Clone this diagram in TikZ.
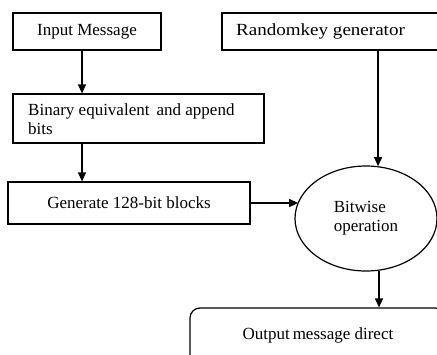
\documentclass[tikz,border=0pt]{standalone}
\usepackage{fontspec}
\setmainfont{Liberation Serif}
\newfontfamily\keyfont[FakeStretch=1.12]{Liberation Serif}
\usetikzlibrary{shapes.geometric,arrows.meta}
\begin{document}
\begin{tikzpicture}[x=1pt,y=-1pt,
  every node/.style={font=\fontsize{17}{19}\selectfont, inner sep=0pt},
  box/.style={draw, line width=1.2pt, rectangle},
  arr/.style={line width=1.2pt, -{Triangle[width=8pt,length=9pt]}},
  lbl/.style={draw=none}]
\useasboundingbox (0,0) rectangle (437,354);
\clip (0,0) rectangle (437,354);
\node[box, minimum width=148pt, minimum height=37pt] (in) at (87,31.5) {Input Message};
\node[box, minimum width=251pt, minimum height=49pt] (bin) at (138.5,118.5) {};
\node[lbl, anchor=west, align=left] (bintxt) at (28,119) {Binary equivalent\, and append\\bits};
\node[box, minimum width=242pt, minimum height=42pt] (gen) at (129,203) {Generate 128-bit blocks};
\node[box, minimum width=223pt, minimum height=37pt] (key) at (333.5,31.5) {};
\node[lbl, anchor=west] (keytxt) at (236,31.5) {\keyfont Randomkey generator};
\node[draw, line width=1.2pt, ellipse, minimum width=142pt, minimum height=105pt, align=left] (ell) at (366,218.5) {Bitwise\\operation};
\node[draw, line width=1.2pt, rounded corners=10pt, minimum width=255pt, minimum height=57pt] (out) at (317.5,336.5) {};
\node[lbl] (outtxt) at (318,335) {Output\,message direct};
\draw[arr] ([xshift=-5pt]in.south) -- ([xshift=-5pt]in.south |- bin.north);
\draw[arr] (bin.south -| 82,0) -- (gen.north -| 82,0);
\draw[arr] (gen.east) -- (gen.east -| ell.166);
\draw[arr] (key.south -| ell.77) -- (ell.77);
\draw[arr] (ell.284) -- (ell.284 |- out.north);
\end{tikzpicture}
\end{document}
